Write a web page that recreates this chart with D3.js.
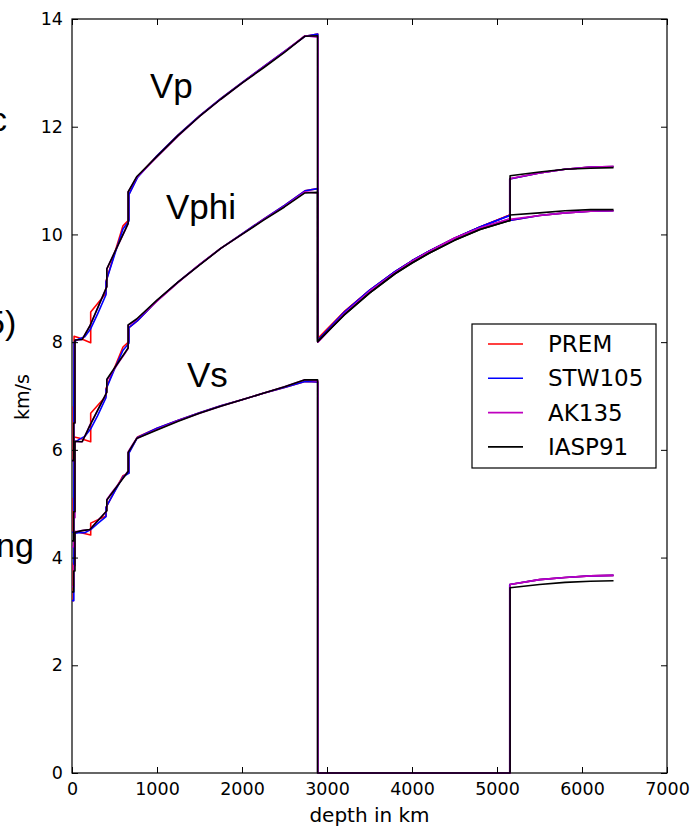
<!DOCTYPE html>
<html>
<head>
<meta charset="utf-8">
<script src="https://cdn.jsdelivr.net/npm/d3@7"></script>
<style>
  body { margin: 0; background: #fff; }
  svg { display: block; }
</style>
</head>
<body>
<svg width="694" height="828"></svg>
<script>
/*global d3*/

// ---- data: 1D earth velocity models (km/s vs depth in km) ----
var modelNames = ["PREM", "STW105", "AK135", "IASP91"];
var modelColors = ["#ff0000", "#0000ff", "#bf00bf", "#000000"];

var premDepth = [0, 15, 15, 24.4, 24.4, 80, 220, 220, 400, 400, 600, 670, 670, 771,
  1000, 1250, 1500, 1750, 2000, 2250, 2500, 2741, 2891,
  2891, 3200, 3500, 3800, 4000, 4200, 4500, 4800, 5150,
  5150, 5500, 5800, 6100, 6371];
var premVp = [5.80, 5.80, 6.80, 6.80, 8.11, 8.08, 7.99, 8.56, 8.91, 9.13, 10.16, 10.27, 10.75, 11.07,
  11.46, 11.85, 12.20, 12.52, 12.82, 13.11, 13.40, 13.68, 13.72,
  8.06, 8.56, 8.96, 9.31, 9.51, 9.69, 9.93, 10.14, 10.36,
  11.03, 11.14, 11.21, 11.25, 11.26];
var premVs = [3.20, 3.20, 3.90, 3.90, 4.49, 4.47, 4.42, 4.64, 4.77, 4.93, 5.52, 5.57, 5.95, 6.24,
  6.40, 6.55, 6.69, 6.82, 6.93, 7.05, 7.16, 7.27, 7.26,
  0, 0, 0, 0, 0, 0, 0, 0, 0,
  3.50, 3.59, 3.63, 3.66, 3.67];
var premVphi = [4.47, 4.47, 5.10, 5.10, 6.24, 6.22, 6.15, 6.68, 7.00, 7.14, 7.91, 8.01, 8.27, 8.40,
  8.77, 9.12, 9.44, 9.74, 10.01, 10.28, 10.54, 10.81, 10.85,
  8.06, 8.56, 8.96, 9.31, 9.51, 9.69, 9.93, 10.14, 10.36,
  10.26, 10.35, 10.40, 10.43, 10.44];

var stwDepth = [0, 21.4, 21.4, 24.4, 80, 150, 220, 300, 400, 400, 500, 600, 670, 670, 771,
  1000, 1250, 1500, 1750, 2000, 2250, 2500, 2741, 2891,
  2891, 3200, 3500, 3800, 4000, 4200, 4500, 4800, 5150,
  5150, 5500, 5800, 6100, 6371];
var stwVp = [5.80, 5.80, 6.80, 8.00, 8.06, 8.10, 8.25, 8.52, 8.88, 9.12, 9.62, 10.10, 10.25, 10.74, 11.06,
  11.46, 11.85, 12.20, 12.52, 12.82, 13.11, 13.40, 13.68, 13.72,
  8.03, 8.55, 8.96, 9.31, 9.51, 9.69, 9.93, 10.14, 10.35,
  11.03, 11.14, 11.21, 11.25, 11.26];
var stwVs = [3.20, 3.20, 3.90, 4.45, 4.46, 4.46, 4.52, 4.63, 4.76, 4.93, 5.22, 5.50, 5.57, 5.94, 6.23,
  6.40, 6.55, 6.69, 6.82, 6.93, 7.05, 7.16, 7.27, 7.26,
  0, 0, 0, 0, 0, 0, 0, 0, 0,
  3.50, 3.59, 3.63, 3.66, 3.67];
var stwVphi = [4.47, 4.47, 5.10, 6.13, 6.19, 6.25, 6.39, 6.63, 6.97, 7.12, 7.50, 7.85, 7.98, 8.27, 8.40,
  8.77, 9.12, 9.44, 9.74, 10.01, 10.28, 10.54, 10.81, 10.85,
  8.03, 8.55, 8.96, 9.31, 9.51, 9.69, 9.93, 10.14, 10.35,
  10.26, 10.35, 10.40, 10.43, 10.44];

var akDepth = [0, 20, 20, 35, 35, 77.5, 120, 165, 210, 260, 310, 360, 410, 410, 460, 510, 560, 610, 660, 660, 710, 760,
  1000, 1250, 1500, 1750, 2000, 2250, 2500, 2740, 2891.5,
  2891.5, 3200, 3500, 3800, 4000, 4200, 4500, 4800, 5153.5,
  5153.5, 5500, 5800, 6100, 6371];
var akVp = [5.80, 5.80, 6.50, 6.50, 8.04, 8.045, 8.05, 8.175, 8.30, 8.48, 8.665, 8.85, 9.03, 9.36, 9.53, 9.70, 9.86, 10.03, 10.20, 10.79, 10.92, 11.06,
  11.44, 11.83, 12.19, 12.51, 12.81, 13.10, 13.39, 13.69, 13.66,
  8.00, 8.52, 8.94, 9.29, 9.50, 9.68, 9.93, 10.12, 10.29,
  11.04, 11.14, 11.21, 11.25, 11.26];
var akVs = [3.46, 3.46, 3.85, 3.85, 4.48, 4.49, 4.50, 4.51, 4.52, 4.61, 4.70, 4.78, 4.87, 5.08, 5.19, 5.29, 5.40, 5.50, 5.61, 5.96, 6.09, 6.21,
  6.38, 6.54, 6.68, 6.81, 6.93, 7.05, 7.17, 7.30, 7.28,
  0, 0, 0, 0, 0, 0, 0, 0, 0,
  3.50, 3.59, 3.63, 3.66, 3.67];
var akVphi = [4.20, 4.20, 4.74, 4.74, 6.16, 6.15, 6.15, 6.30, 6.46, 6.61, 6.76, 6.91, 7.07, 7.29, 7.41, 7.53, 7.65, 7.76, 7.88, 8.31, 8.36, 8.42,
  8.76, 9.11, 9.44, 9.74, 10.00, 10.27, 10.52, 10.79, 10.77,
  8.00, 8.52, 8.94, 9.29, 9.50, 9.68, 9.93, 10.12, 10.29,
  10.28, 10.35, 10.40, 10.43, 10.44];

var iaspDepth = [0, 20, 20, 35, 35, 120, 210, 410, 410, 660, 660, 760,
  1000, 1250, 1500, 1750, 2000, 2250, 2500, 2740, 2889,
  2889, 3200, 3500, 3800, 4000, 4200, 4500, 4800, 5153.9,
  5153.9, 5500, 5800, 6100, 6371];
var iaspVp = [5.80, 5.80, 6.50, 6.50, 8.04, 8.05, 8.30, 9.03, 9.36, 10.20, 10.79, 11.07,
  11.45, 11.84, 12.19, 12.51, 12.81, 13.09, 13.38, 13.68, 13.69,
  8.01, 8.50, 8.91, 9.27, 9.47, 9.65, 9.89, 10.09, 10.26,
  11.09, 11.16, 11.21, 11.23, 11.24];
var iaspVs = [3.36, 3.36, 3.75, 3.75, 4.47, 4.50, 4.52, 4.87, 5.07, 5.60, 5.95, 6.21,
  6.37, 6.53, 6.68, 6.81, 6.93, 7.05, 7.17, 7.30, 7.30,
  0, 0, 0, 0, 0, 0, 0, 0, 0,
  3.44, 3.50, 3.54, 3.56, 3.57];
var iaspVphi = [4.31, 4.31, 4.85, 4.85, 6.16, 6.15, 6.45, 7.07, 7.31, 7.89, 8.32, 8.43,
  8.78, 9.12, 9.43, 9.74, 10.00, 10.26, 10.51, 10.77, 10.78,
  8.01, 8.50, 8.91, 9.27, 9.47, 9.65, 9.89, 10.09, 10.26,
  10.36, 10.40, 10.44, 10.46, 10.46];

var xTicks = [0, 1000, 2000, 3000, 4000, 5000, 6000, 7000];
var yTicks = [0, 2, 4, 6, 8, 10, 12, 14];

// bundle for drawing (draw order = legend order, IASP91 ends on top)
var models = [
  { depth: premDepth, curves: [premVp, premVs, premVphi] },
  { depth: stwDepth, curves: [stwVp, stwVs, stwVphi] },
  { depth: akDepth, curves: [akVp, akVs, akVphi] },
  { depth: iaspDepth, curves: [iaspVp, iaspVs, iaspVphi] }
];

var svg = d3.select("svg");
// plot box (note: "top" is a reserved window global, so use box* names)
var boxLeft = 72, boxRight = 667, boxTop = 19, boxBottom = 773;

var x = d3.scaleLinear().domain([0, 7000]).range([boxLeft, boxRight]);
var y = d3.scaleLinear().domain([0, 14]).range([boxBottom, boxTop]);

svg.append("defs").append("clipPath").attr("id", "plotclip")
  .append("rect")
    .attr("x", boxLeft - 2).attr("y", boxTop - 2)
    .attr("width", boxRight - boxLeft + 4).attr("height", boxBottom - boxTop + 4);

// cut-off words from the neighbouring slide at the left edge
var sideText = [["c", -10, 131], ["5)", -14, 334], ["ng", -4, 557]];
svg.append("g").selectAll("text")
  .data(sideText)
  .enter().append("text")
    .attr("x", function(d) { return d[1]; })
    .attr("y", function(d) { return d[2]; })
    .attr("font-family", "Liberation Sans, Arial, sans-serif")
    .attr("font-size", 34)
    .attr("fill", "#000")
    .text(function(d) { return d[0]; });

// frame (drawn first so the zero-velocity segment shows on top of it)
svg.append("rect")
    .attr("x", boxLeft).attr("y", boxTop)
    .attr("width", boxRight - boxLeft).attr("height", boxBottom - boxTop)
    .attr("fill", "none")
    .attr("stroke", "#000")
    .attr("stroke-width", 1.2);

// curves
var lines = svg.append("g").attr("clip-path", "url(#plotclip)");
models.forEach(function(m, i) {
  m.curves.forEach(function(vals) {
    var line = d3.line()
      .x(function(d, k) { return x(m.depth[k]); })
      .y(function(d) { return y(d); });
    lines.append("path")
      .datum(vals)
      .attr("fill", "none")
      .attr("stroke", modelColors[i])
      .attr("stroke-width", 1.6)
      .attr("stroke-linejoin", "round")
      .attr("d", line);
  });
});

// axes: ticks pointing inward on all four sides
var tickFont = "DejaVu Sans, sans-serif";
svg.append("g")
    .attr("transform", "translate(0," + boxBottom + ")")
    .call(d3.axisBottom(x).tickValues(xTicks).tickSize(-6).tickPadding(10).tickFormat(d3.format("d")))
    .call(function(g) { g.select(".domain").remove(); });
svg.append("g")
    .attr("transform", "translate(0," + boxTop + ")")
    .call(d3.axisTop(x).tickValues(xTicks).tickSize(-6).tickFormat(""))
    .call(function(g) { g.select(".domain").remove(); });
svg.append("g")
    .attr("transform", "translate(" + boxLeft + ",0)")
    .call(d3.axisLeft(y).tickValues(yTicks).tickSize(-6).tickPadding(9).tickFormat(d3.format("d")))
    .call(function(g) { g.select(".domain").remove(); });
svg.append("g")
    .attr("transform", "translate(" + boxRight + ",0)")
    .call(d3.axisRight(y).tickValues(yTicks).tickSize(-6).tickFormat(""))
    .call(function(g) { g.select(".domain").remove(); });

svg.selectAll(".tick line").attr("stroke", "#000").attr("stroke-width", 1);
svg.selectAll(".tick text")
    .attr("font-family", tickFont)
    .attr("font-size", 17.5)
    .attr("fill", "#000");

// axis labels
svg.append("text")
    .attr("x", (boxLeft + boxRight) / 2).attr("y", 822)
    .attr("text-anchor", "middle")
    .attr("font-family", tickFont).attr("font-size", 20)
    .text("depth in km");
svg.append("text")
    .attr("transform", "translate(29,397) rotate(-90)")
    .attr("text-anchor", "middle")
    .attr("font-family", tickFont).attr("font-size", 19)
    .text("km/s");

// curve annotations
var notes = [["Vp", 150, 98], ["Vphi", 166, 219], ["Vs", 187, 387]];
svg.append("g").selectAll("text")
  .data(notes)
  .enter().append("text")
    .attr("x", function(d) { return d[1]; })
    .attr("y", function(d) { return d[2]; })
    .attr("font-family", "Liberation Sans, Arial, sans-serif")
    .attr("font-size", 35)
    .text(function(d) { return d[0]; });

// legend
var lg = svg.append("g").attr("transform", "translate(472,324)");
lg.append("rect")
    .attr("width", 184).attr("height", 144)
    .attr("fill", "#fff").attr("stroke", "#000").attr("stroke-width", 1.2);
var rows = lg.selectAll("g.row")
  .data(modelNames)
  .enter().append("g")
    .attr("class", "row")
    .attr("transform", function(d, i) { return "translate(0," + (20 + i * 34.3) + ")"; });
rows.append("line")
    .attr("x1", 16).attr("x2", 51)
    .attr("stroke", function(d, i) { return modelColors[i]; })
    .attr("stroke-width", 1.6);
rows.append("text")
    .attr("x", 76).attr("y", 8)
    .attr("font-family", tickFont).attr("font-size", 23)
    .text(function(d) { return d; });
</script>
</body>
</html>
